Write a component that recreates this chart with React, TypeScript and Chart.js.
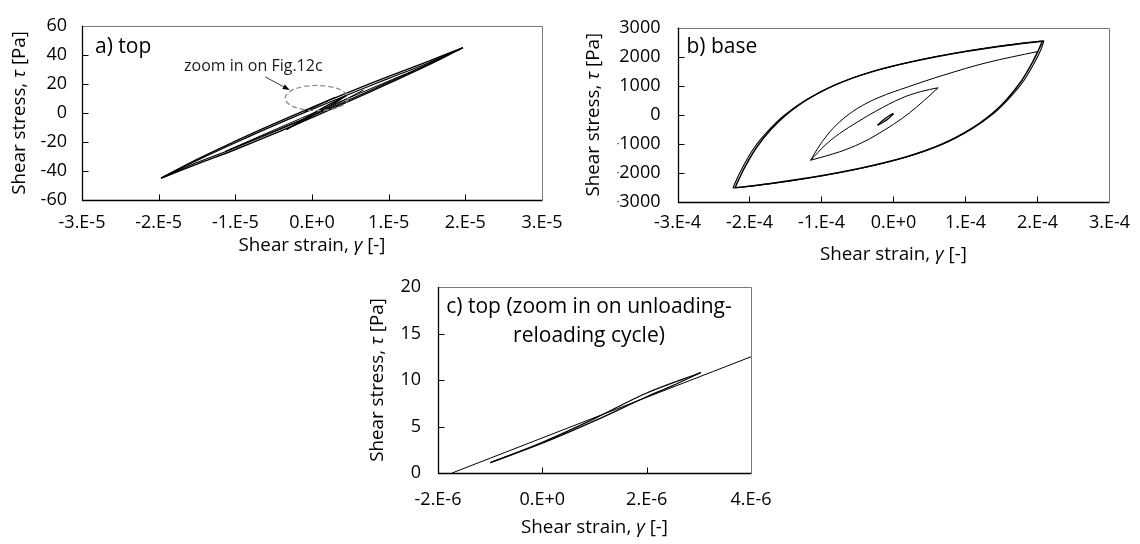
import React, { useEffect, useRef } from 'react';
import { Chart, registerables } from 'chart.js';

Chart.register(...registerables);

const FONT = '"Open Sans", "DejaVu Sans", sans-serif';
Chart.defaults.font.family = FONT;
Chart.defaults.color = '#000';

// ---------------- Panel a) top  (strain in units of 1E-5, stress in Pa) ----------------
const aXTicks = [-3, -2, -1, 0, 1, 2, 3];
const aXLabels = ['-3.E-5', '-2.E-5', '-1.E-5', '0.E+0', '1.E-5', '2.E-5', '3.E-5'];
const aYTicks = [-60, -40, -20, 0, 20, 40, 60];
const aYLabels = ['-60', '-40', '-20', '0', '20', '40', '60'];

const aOuter1UpX = [-1.97, -1.5, -1.0, -0.5, 0, 0.5, 1.0, 1.5, 1.97];
const aOuter1UpY = [-45, -32, -19.5, -7.6, 3.8, 14.7, 25.2, 35.2, 45];
const aOuter1DnX = [-1.97, -1.5, -1.0, -0.5, 0, 0.5, 1.0, 1.5, 1.97];
const aOuter1DnY = [-45, -35.3, -25.2, -14.5, -3.2, 8.4, 20.3, 32.5, 45];
const aOuter2UpX = [-1.94, -1.5, -1.0, -0.5, 0, 0.5, 1.0, 1.5, 1.94];
const aOuter2UpY = [-44.2, -32.8, -20.6, -8.8, 2.4, 13.2, 23.8, 34.0, 44.2];
const aOuter2DnX = [-1.94, -1.5, -1.0, -0.5, 0, 0.5, 1.0, 1.5, 1.94];
const aOuter2DnY = [-44.2, -34.2, -24.0, -13.2, -2.0, 9.4, 21.2, 33.2, 44.2];
const aMidUpX = [-1.13, -0.6, 0, 0.6, 1.2, 1.7];
const aMidUpY = [-26.5, -14.2, -0.5, 13.0, 26.4, 37.6];
const aMidDnX = [-1.13, -0.5, 0, 0.3, 0.67];
const aMidDnY = [-26.5, -12.6, -1.6, 5.6, 15.7];
const aSmallUpX = [-0.33, -0.1, 0.2, 0.45];
const aSmallUpY = [-11.4, -4.0, 5.2, 12.0];
const aSmallDnX = [-0.33, -0.1, 0.2, 0.45];
const aSmallDnY = [-11.4, -5.0, 3.8, 12.0];
const aCycleUpX = [-0.1, 0.1, 0.304];
const aCycleUpY = [1.07, 5.9, 10.75];

// annotation (data units of panel a)
const aNoteText = 'zoom in on Fig.12c';
const aNotePos = { x: -0.765, y: 31.9 };
const aArrowFrom = { x: -0.61, y: 24.8 };
const aArrowTo = { x: -0.29, y: 15.7 };
const aEllipse = { x: 0.06, y: 10.2, rx: 0.41, ry: 8.7 };

// ---------------- Panel b) base (strain in units of 1E-4, stress in Pa) ----------------
const bXTicks = [-3, -2, -1, 0, 1, 2, 3];
const bXLabels = ['-3.E-4', '-2.E-4', '-1.E-4', '0.E+0', '1.E-4', '2.E-4', '3.E-4'];
const bYTicks = [-3000, -2000, -1000, 0, 1000, 2000, 3000];
const bYLabels = ['-3000', '-2000', '-1000', '0', '1000', '2000', '3000'];

const bOuter1UpX = [-2.20, -2.15, -2.05, -1.90, -1.70, -1.50, -1.20, -0.80, -0.30, 0.30, 1.00, 1.60, 2.07];
const bOuter1UpY = [-2520, -2240, -1740, -1120, -500, -20, 520, 1040, 1480, 1850, 2180, 2400, 2540];
const bOuter1DnX = [-2.20, -1.73, -1.13, -0.43, 0.17, 0.67, 1.07, 1.37, 1.57, 1.77, 1.92, 2.02, 2.07];
const bOuter1DnY = [-2520, -2380, -2160, -1830, -1460, -1020, -500, 40, 520, 1140, 1760, 2260, 2540];
const bOuter2UpX = [-2.23, -2.18, -2.08, -1.93, -1.72, -1.52, -1.21, -0.80, -0.30, 0.30, 1.00, 1.60, 2.09];
const bOuter2UpY = [-2530, -2240, -1740, -1120, -500, -20, 520, 1045, 1490, 1860, 2190, 2410, 2555];
const bOuter2DnX = [-2.23, -1.73, -1.13, -0.43, 0.17, 0.67, 1.08, 1.39, 1.59, 1.80, 1.95, 2.05, 2.09];
const bOuter2DnY = [-2530, -2385, -2165, -1835, -1465, -1025, -500, 40, 520, 1140, 1760, 2260, 2555];
const bThinX = [-1.15, -1.05, -0.92, -0.75, -0.50, -0.20, 0.20, 0.70, 1.30, 2.00];
const bThinY = [-1570, -1150, -700, -250, 220, 600, 960, 1370, 1800, 2180];
const bLensUpX = [-1.15, -0.95, -0.75, -0.50, -0.24, 0.10, 0.38, 0.62];
const bLensUpY = [-1570, -1050, -650, -250, 130, 560, 800, 930];
const bLensDnX = [-1.15, -0.75, -0.45, -0.24, 0.00, 0.22, 0.42, 0.62];
const bLensDnY = [-1570, -1280, -980, -700, -330, 60, 480, 930];
const bSmallUpX = [-0.22, -0.15, -0.07, 0.00];
const bSmallUpY = [-360, -200, -50, 40];
const bSmallDnX = [-0.22, -0.14, -0.06, 0.00];
const bSmallDnY = [-360, -250, -110, 40];

// ---------------- Panel c) top zoom (strain in units of 1E-6, stress in Pa) ----------------
const cXTicks = [-2, 0, 2, 4];
const cXLabels = ['-2.E-6', '0.E+0', '2.E-6', '4.E-6'];
const cYTicks = [0, 5, 10, 15, 20];
const cYLabels = ['0', '5', '10', '15', '20'];

const cLineX = [-1.73, 4];
const cLineY = [0, 12.5];
const cLoopUpX = [-1.0, 0, 1, 2, 3.04];
const cLoopUpY = [1.1, 3.3, 5.85, 8.6, 10.8];
const cLoopDnX = [-1.0, 0, 1, 2, 2.5, 3.04];
const cLoopDnY = [1.1, 3.2, 5.6, 8.2, 9.4, 10.8];

// ---------------------------------------------------------------------------------------
type Part = { t: string; it?: boolean };
const xTitleParts: Part[] = [{ t: 'Shear strain, ' }, { t: 'γ', it: true }, { t: ' [-]' }];
const yTitleParts: Part[] = [{ t: 'Shear stress, ' }, { t: 'τ', it: true }, { t: ' [Pa]' }];

const zip = (xs: number[], ys: number[]) => xs.map((x, i) => ({ x, y: ys[i] }));
const line = (xs: number[], ys: number[], width: number, color = '#000') => ({
  data: zip(xs, ys),
  showLine: true,
  borderColor: color,
  backgroundColor: color,
  borderWidth: width,
  pointRadius: 0,
  pointHoverRadius: 0,
  fill: false,
  tension: 0.35,
});

function drawParts(ctx: CanvasRenderingContext2D, parts: Part[], x: number, y: number, size: number) {
  const widths = parts.map((p) => {
    ctx.font = `${p.it ? 'italic ' : ''}${size}px ${FONT}`;
    return ctx.measureText(p.t).width;
  });
  const total = widths.reduce((s, w) => s + w, 0);
  let cx = x - total / 2;
  ctx.textAlign = 'left';
  parts.forEach((p, i) => {
    ctx.font = `${p.it ? 'italic ' : ''}${size}px ${FONT}`;
    ctx.fillText(p.t, cx, y);
    cx += widths[i];
  });
}

interface Panel {
  id: string;
  pad: { left: number; right: number; top: number; bottom: number };
  xTicks: number[];
  xLabels: string[];
  yTicks: number[];
  yLabels: string[];
  xLabelPad: number;
  yLabelPad: number;
  xTitleDy: number;
  yTitleDx: number;
  title: string[];
  titleCenter: boolean;
  titleDx: number;
  titleDy: number[];
  datasets: any[];
  extra?: (chart: any) => void;
}

function decoPlugin(p: Panel) {
  return {
    id: 'deco_' + p.id,
    afterDatasetsDraw(chart: any) {
      const { ctx, chartArea: a, scales } = chart;
      const xs = scales.x;
      const ys = scales.y;
      ctx.save();
      if (p.extra) p.extra(chart);
      // frame
      ctx.setLineDash([]);
      ctx.lineWidth = 1;
      ctx.strokeStyle = '#7a7a7a';
      ctx.beginPath();
      ctx.moveTo(a.left, Math.round(a.top) + 0.5);
      ctx.lineTo(Math.round(a.right) + 0.5, Math.round(a.top) + 0.5);
      ctx.lineTo(Math.round(a.right) + 0.5, a.bottom);
      ctx.stroke();
      ctx.strokeStyle = '#000';
      ctx.lineWidth = 1.3;
      const L = Math.round(a.left) + 0.5;
      const B = Math.round(a.bottom) + 0.5;
      ctx.beginPath();
      ctx.moveTo(L, a.top);
      ctx.lineTo(L, B);
      ctx.lineTo(Math.round(a.right) + 0.5, B);
      ctx.stroke();
      // inside ticks
      ctx.lineWidth = 1;
      p.xTicks.slice(1, -1).forEach((v) => {
        const px = Math.round(xs.getPixelForValue(v)) + 0.5;
        ctx.beginPath();
        ctx.moveTo(px, B);
        ctx.lineTo(px, B - 6);
        ctx.stroke();
      });
      p.yTicks.slice(1, -1).forEach((v) => {
        const py = Math.round(ys.getPixelForValue(v)) + 0.5;
        ctx.beginPath();
        ctx.moveTo(L, py);
        ctx.lineTo(L + 6, py);
        ctx.stroke();
      });
      // axis titles
      ctx.fillStyle = '#000';
      ctx.textBaseline = 'middle';
      drawParts(ctx, xTitleParts, (a.left + a.right) / 2, a.bottom + p.xTitleDy, 18.8);
      ctx.save();
      ctx.translate(a.left - p.yTitleDx, (a.top + a.bottom) / 2);
      ctx.rotate(-Math.PI / 2);
      drawParts(ctx, yTitleParts, 0, 0, 18.8);
      ctx.restore();
      // panel title
      ctx.textBaseline = 'alphabetic';
      ctx.font = `21px ${FONT}`;
      ctx.textAlign = p.titleCenter ? 'center' : 'left';
      p.title.forEach((t, i) => ctx.fillText(t, a.left + p.titleDx, a.top + p.titleDy[i]));
      ctx.restore();
    },
  };
}

function annotationA(chart: any) {
  const { ctx, scales } = chart;
  const xs = scales.x;
  const ys = scales.y;
  // dashed ellipse
  const cx = xs.getPixelForValue(aEllipse.x);
  const cy = ys.getPixelForValue(aEllipse.y);
  const rx = Math.abs(xs.getPixelForValue(aEllipse.x + aEllipse.rx) - cx);
  const ry = Math.abs(ys.getPixelForValue(aEllipse.y + aEllipse.ry) - cy);
  ctx.strokeStyle = '#8a8a8a';
  ctx.lineWidth = 1.3;
  ctx.setLineDash([5, 3]);
  ctx.beginPath();
  ctx.ellipse(cx, cy, rx, ry, 0, 0, Math.PI * 2);
  ctx.stroke();
  ctx.setLineDash([]);
  // arrow
  const x1 = xs.getPixelForValue(aArrowFrom.x);
  const y1 = ys.getPixelForValue(aArrowFrom.y);
  const x2 = xs.getPixelForValue(aArrowTo.x);
  const y2 = ys.getPixelForValue(aArrowTo.y);
  const ang = Math.atan2(y2 - y1, x2 - x1);
  ctx.strokeStyle = '#000';
  ctx.fillStyle = '#000';
  ctx.lineWidth = 0.8;
  ctx.beginPath();
  ctx.moveTo(x1, y1);
  ctx.lineTo(x2 - 5 * Math.cos(ang), y2 - 5 * Math.sin(ang));
  ctx.stroke();
  ctx.beginPath();
  ctx.moveTo(x2, y2);
  ctx.lineTo(x2 - 7 * Math.cos(ang) + 2.6 * Math.sin(ang), y2 - 7 * Math.sin(ang) - 2.6 * Math.cos(ang));
  ctx.lineTo(x2 - 7 * Math.cos(ang) - 2.6 * Math.sin(ang), y2 - 7 * Math.sin(ang) + 2.6 * Math.cos(ang));
  ctx.closePath();
  ctx.fill();
  // text
  ctx.font = `16px ${FONT}`;
  ctx.textAlign = 'center';
  ctx.textBaseline = 'middle';
  ctx.fillStyle = '#1a1a1a';
  ctx.fillText(aNoteText, xs.getPixelForValue(aNotePos.x), ys.getPixelForValue(aNotePos.y));
}

const panels: Panel[] = [
  {
    id: 'a',
    pad: { left: 22, right: 598, top: 15, bottom: 284 },
    xTicks: aXTicks, xLabels: aXLabels, yTicks: aYTicks, yLabels: aYLabels,
    xLabelPad: 12, yLabelPad: 15, xTitleDy: 46, yTitleDx: 62,
    title: ['a) top'], titleCenter: false, titleDx: 13, titleDy: [27.5],
    datasets: [
      line(aOuter1UpX, aOuter1UpY, 1.4), line(aOuter1DnX, aOuter1DnY, 1.4),
      line(aOuter2UpX, aOuter2UpY, 1.2), line(aOuter2DnX, aOuter2DnY, 1.2),
      line(aMidUpX, aMidUpY, 1), line(aMidDnX, aMidDnY, 1),
      line(aSmallUpX, aSmallUpY, 1.3), line(aSmallDnX, aSmallDnY, 1.3),
      line(aCycleUpX, aCycleUpY, 1.2),
    ],
    extra: annotationA,
  },
  {
    id: 'b',
    pad: { left: 617.5, right: 25, top: 18, bottom: 282.3 },
    xTicks: bXTicks, xLabels: bXLabels, yTicks: bYTicks, yLabels: bYLabels,
    xLabelPad: 10, yLabelPad: 17, xTitleDy: 53, yTitleDx: 84,
    title: ['b) base'], titleCenter: false, titleDx: 9, titleDy: [25],
    datasets: [
      line(bOuter1UpX, bOuter1UpY, 1.5), line(bOuter1DnX, bOuter1DnY, 1.5),
      line(bOuter2UpX, bOuter2UpY, 1.1), line(bOuter2DnX, bOuter2DnY, 1.1),
      line(bThinX, bThinY, 1), line(bLensUpX, bLensUpY, 1), line(bLensDnX, bLensDnY, 1),
      line(bSmallUpX, bSmallUpY, 1.3), line(bSmallDnX, bSmallDnY, 1.3),
    ],
  },
  {
    id: 'c',
    pad: { left: 378, right: 389, top: 287, bottom: 11 },
    xTicks: cXTicks, xLabels: cXLabels, yTicks: cYTicks, yLabels: cYLabels,
    xLabelPad: 16, yLabelPad: 17, xTitleDy: 55, yTitleDx: 60,
    title: ['c) top (zoom in on unloading-', 'reloading cycle)'], titleCenter: true, titleDx: 151, titleDy: [26, 55],
    datasets: [
      line(cLineX, cLineY, 1), line(cLoopUpX, cLoopUpY, 1.2), line(cLoopDnX, cLoopDnY, 1.2),
    ],
  },
];

function PanelChart({ p }: { p: Panel }) {
  const ref = useRef<HTMLCanvasElement | null>(null);
  useEffect(() => {
    if (!ref.current) return;
    const chart = new Chart(ref.current, {
      type: 'scatter',
      data: { datasets: p.datasets },
      options: {
        animation: false,
        responsive: false,
        events: [],
        layout: { padding: p.pad },
        plugins: { legend: { display: false }, tooltip: { enabled: false } },
        scales: {
          x: {
            type: 'linear',
            min: p.xTicks[0],
            max: p.xTicks[p.xTicks.length - 1],
            afterBuildTicks: (s: any) => { s.ticks = p.xTicks.map((v) => ({ value: v })); },
            afterFit: (s: any) => { s.height = 60; },
            grid: { display: false, drawTicks: false },
            border: { display: false },
            ticks: {
              padding: p.xLabelPad,
              autoSkip: false,
              maxRotation: 0,
              minRotation: 0,
              color: '#000',
              font: { family: FONT, size: 18 },
              callback: (_v: any, i: number) => p.xLabels[i] ?? '',
            },
          },
          y: {
            type: 'linear',
            min: p.yTicks[0],
            max: p.yTicks[p.yTicks.length - 1],
            afterBuildTicks: (s: any) => { s.ticks = p.yTicks.map((v) => ({ value: v })); },
            afterFit: (s: any) => { s.width = 60; },
            grid: { display: false, drawTicks: false },
            border: { display: false },
            ticks: {
              padding: p.yLabelPad,
              autoSkip: false,
              color: '#000',
              font: { family: FONT, size: 18 },
              callback: (_v: any, i: number) => p.yLabels[i] ?? '',
            },
          },
        },
      } as any,
      plugins: [decoPlugin(p)],
    });
    return () => chart.destroy();
  }, [p]);
  return (
    <canvas
      ref={ref}
      width={1140}
      height={544}
      style={{ position: 'absolute', left: 0, top: 0, width: 1140, height: 544 }}
    />
  );
}

export default function App() {
  return (
    <div style={{ position: 'fixed', left: 0, top: 0, width: 1140, height: 544, background: '#fff', overflow: 'hidden' }}>
      {panels.map((p) => (
        <PanelChart key={p.id} p={p} />
      ))}
    </div>
  );
}
